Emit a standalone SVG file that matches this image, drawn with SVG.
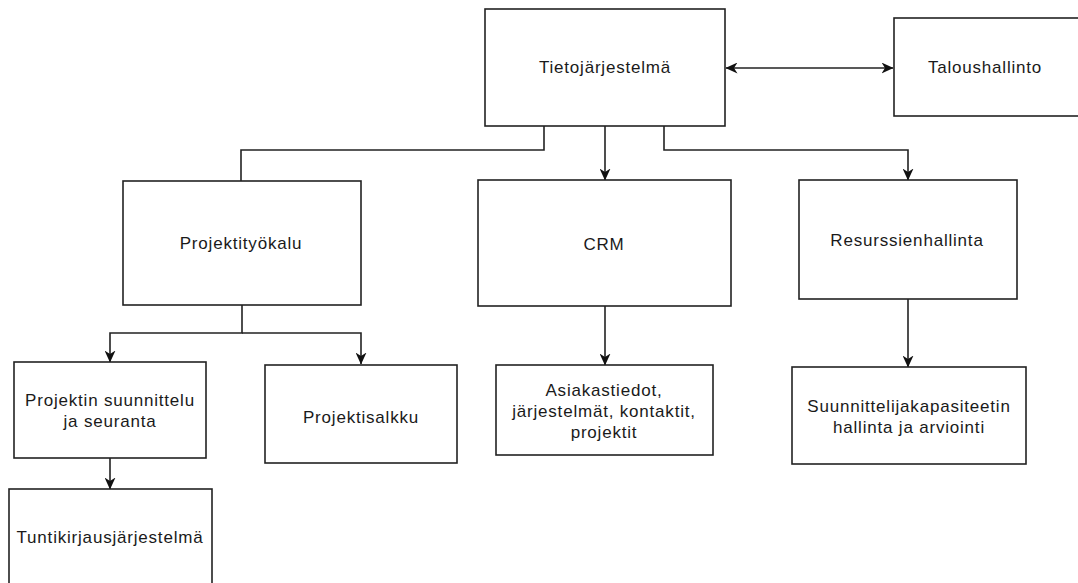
<svg xmlns="http://www.w3.org/2000/svg" width="1078" height="583" viewBox="0 0 1078 583">
  <style>
    .box { fill: #ffffff; stroke: #222222; stroke-width: 1.6; }
    .lbl { font-family: "Liberation Sans", Arial, sans-serif; font-size: 17px; letter-spacing: 0.8px; fill: #1a1a1a; text-anchor: middle; }
    .edge { fill: none; stroke: #222222; stroke-width: 1.6; }
  </style>
  <defs>
    <marker id="arrow" viewBox="0 0 12 11" refX="11.5" refY="5.5" markerWidth="12" markerHeight="11" markerUnits="userSpaceOnUse" orient="auto-start-reverse">
      <path d="M0,0 L12,5.5 L0,11 L3.5,5.5 z" fill="#111111"/>
    </marker>
  </defs>

  <rect width="1078" height="583" fill="#ffffff"/>

  <!-- connectors -->
  <g id="connectors">
    <line class="edge" x1="726" y1="68" x2="893" y2="68" marker-start="url(#arrow)" marker-end="url(#arrow)"/>
    <path class="edge" d="M544,126 V150 H241 V181"/>
    <path class="edge" d="M605,126 V180" marker-end="url(#arrow)"/>
    <path class="edge" d="M664,126 V150 H908 V180" marker-end="url(#arrow)"/>
    <path class="edge" d="M242,305 V333 H110 V362" marker-end="url(#arrow)"/>
    <path class="edge" d="M242,333 H361 V364" marker-end="url(#arrow)"/>
    <path class="edge" d="M110,458 V489" marker-end="url(#arrow)"/>
    <path class="edge" d="M605,306 V365" marker-end="url(#arrow)"/>
    <path class="edge" d="M908,299 V367" marker-end="url(#arrow)"/>
  </g>

  <!-- nodes -->
  <g id="tietojarjestelma">
    <rect class="box" x="485" y="9" width="240" height="117"/>
    <text class="lbl" x="605" y="73">Tietojärjestelmä</text>
  </g>
  <g id="taloushallinto">
    <rect class="box" x="894" y="18" width="190" height="98"/>
    <text class="lbl" x="985" y="73">Taloushallinto</text>
  </g>
  <g id="projektityokalu">
    <rect class="box" x="123" y="181" width="238" height="124"/>
    <text class="lbl" x="241" y="249">Projektityökalu</text>
  </g>
  <g id="crm">
    <rect class="box" x="478" y="180" width="253" height="126"/>
    <text class="lbl" x="604" y="250">CRM</text>
  </g>
  <g id="resurssienhallinta">
    <rect class="box" x="799" y="180" width="218" height="119"/>
    <text class="lbl" x="907" y="246">Resurssienhallinta</text>
  </g>
  <g id="projektin-suunnittelu">
    <rect class="box" x="14" y="362" width="192" height="96"/>
    <text class="lbl" x="110" y="406">Projektin suunnittelu</text>
    <text class="lbl" x="110" y="427">ja seuranta</text>
  </g>
  <g id="projektisalkku">
    <rect class="box" x="265" y="365" width="192" height="98"/>
    <text class="lbl" x="361" y="423">Projektisalkku</text>
  </g>
  <g id="asiakastiedot">
    <rect class="box" x="496" y="365" width="217" height="90"/>
    <text class="lbl" x="604" y="396">Asiakastiedot,</text>
    <text class="lbl" x="604" y="417">järjestelmät, kontaktit,</text>
    <text class="lbl" x="604" y="438">projektit</text>
  </g>
  <g id="suunnittelijakapasiteetti">
    <rect class="box" x="792" y="367" width="234" height="97"/>
    <text class="lbl" x="909" y="412">Suunnittelijakapasiteetin</text>
    <text class="lbl" x="909" y="433">hallinta ja arviointi</text>
  </g>
  <g id="tuntikirjausjarjestelma">
    <rect class="box" x="9" y="489" width="203" height="110"/>
    <text class="lbl" x="110" y="543">Tuntikirjausjärjestelmä</text>
  </g>
</svg>
